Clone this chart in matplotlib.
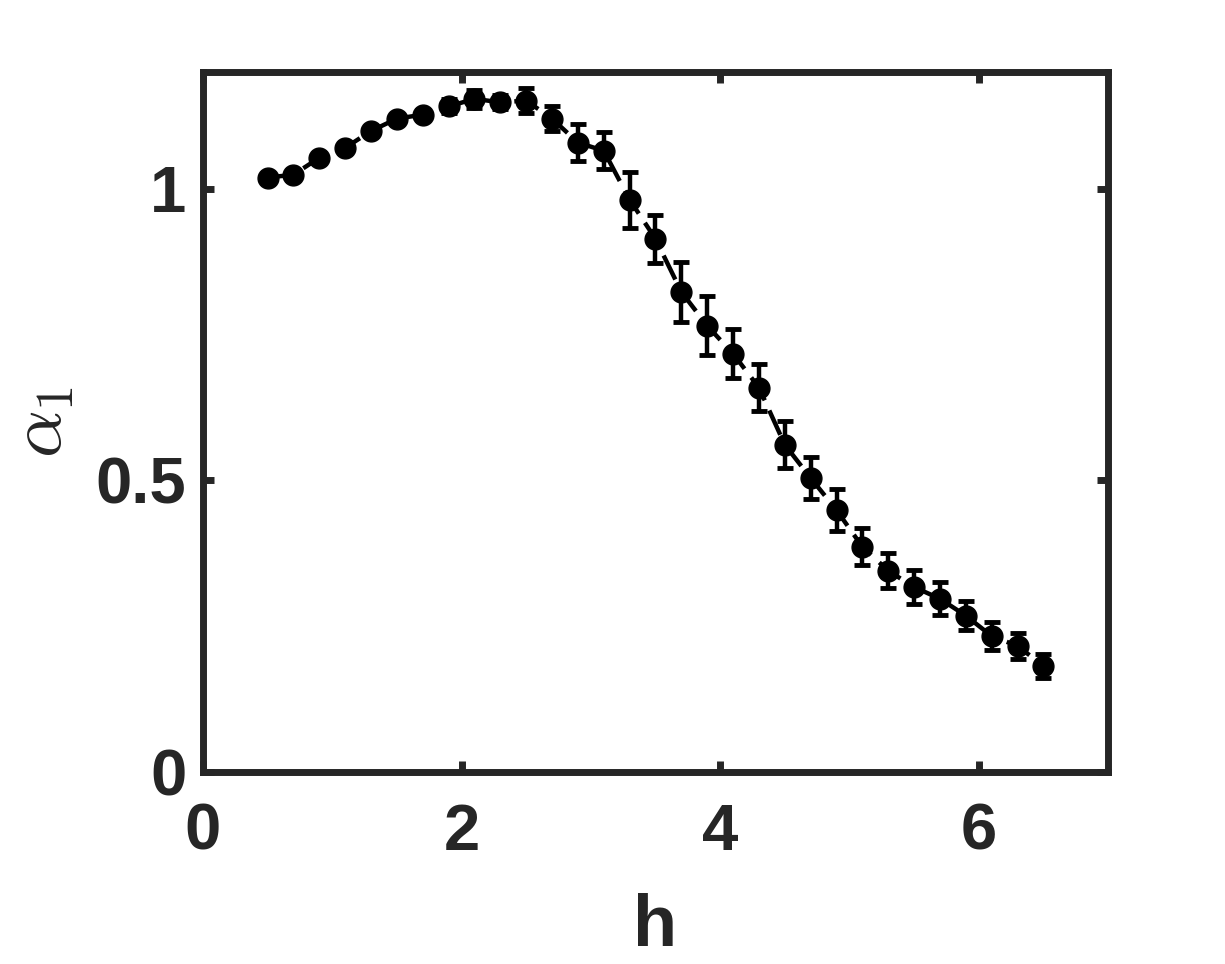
import numpy as np
import matplotlib
matplotlib.use('Agg')
import matplotlib.pyplot as plt

# data
h = [0.5, 0.7, 0.9, 1.1, 1.3, 1.5, 1.7, 1.9, 2.1, 2.3, 2.5, 2.7, 2.9, 3.1, 3.3, 3.5,
     3.7, 3.9, 4.1, 4.3, 4.5, 4.7, 4.9, 5.1, 5.3, 5.5, 5.7, 5.9, 6.1, 6.3, 6.5]
alpha1 = [1.019, 1.024, 1.053, 1.070, 1.099, 1.120, 1.127, 1.141, 1.154, 1.148, 1.151,
          1.120, 1.079, 1.065, 0.981, 0.914, 0.823, 0.765, 0.717, 0.659, 0.561, 0.504,
          0.449, 0.386, 0.345, 0.317, 0.297, 0.268, 0.233, 0.216, 0.182]
alpha1_err = [0.006, 0.004, 0.005, 0.006, 0.006, 0.007, 0.008, 0.012, 0.015, 0.012, 0.022,
              0.021, 0.032, 0.032, 0.048, 0.041, 0.051, 0.051, 0.042, 0.041, 0.040, 0.036,
              0.036, 0.032, 0.030, 0.029, 0.028, 0.025, 0.024, 0.022, 0.021]

xticks = [0, 2, 4, 6]
yticks = [0, 0.5, 1]
ytick_labels = ['0', '0.5', '1']

axcol = '#262626'
plt.rcParams['font.family'] = ['Liberation Sans', 'DejaVu Sans']
plt.rcParams['font.weight'] = 'bold'
plt.rcParams['mathtext.fontset'] = 'cm'

fig = plt.figure(figsize=(12.25, 9.64), dpi=100)
ax = fig.add_axes([0.1657, 0.1992, 0.7388, 0.7261])

ax.errorbar(h, alpha1, yerr=alpha1_err, color='black', marker='o', markersize=15,
            linestyle='--', dashes=(6, 2.5), linewidth=3.2, elinewidth=3.2,
            capsize=5.5, capthick=3.5)

ax.set_xlim(0, 7)
ax.set_ylim(0, 1.2)
ax.set_xticks(xticks)
ax.set_yticks(yticks)
ax.set_yticklabels(ytick_labels)

# box with ticks inside on all sides
for s in ax.spines.values():
    s.set_linewidth(5)
    s.set_color(axcol)
ax.tick_params(direction='in', length=8, width=5, color=axcol, labelcolor=axcol,
               labelsize=47, top=True, right=True)
ax.tick_params(axis='x', pad=22)
ax.tick_params(axis='y', pad=12)

ax.set_xlabel('h', fontsize=52, fontweight='bold', color=axcol, labelpad=22)
ax.set_ylabel(r'$\alpha_1$', fontsize=54, color=axcol, labelpad=14)

fig.savefig('out.png', dpi=100)
